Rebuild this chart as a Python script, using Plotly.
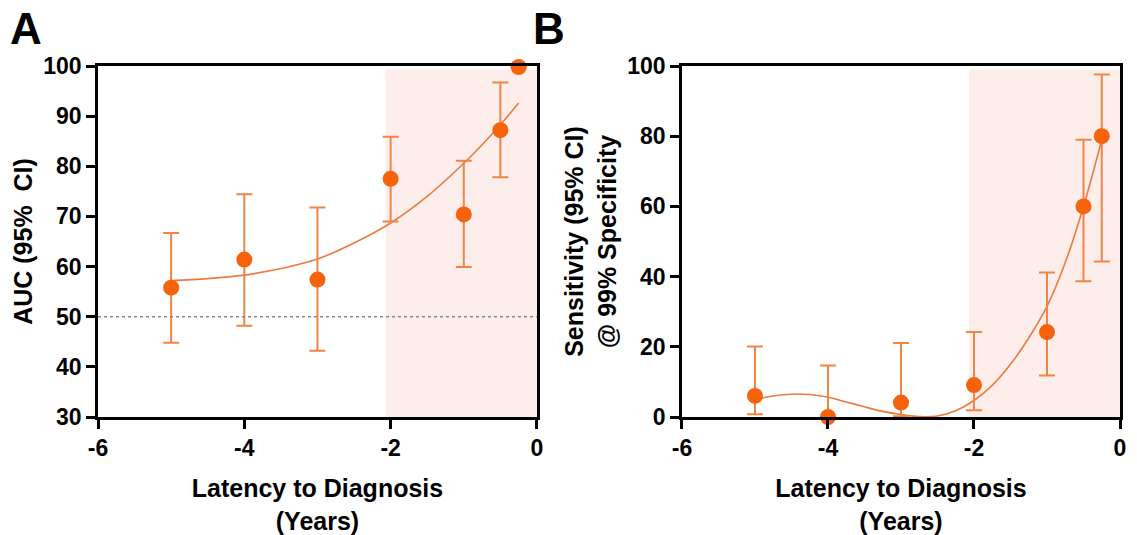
import plotly.graph_objects as go

# ---------------- data ----------------
years = [-5, -4, -3, -2, -1, -0.5, -0.25]

# Panel A: AUC (95% CI)
auc = [55.8, 61.4, 57.4, 77.5, 70.4, 87.2, 99.8]
auc_lo = [44.8, 48.2, 43.2, 69.0, 59.9, 77.8, None]
auc_hi = [66.7, 74.4, 71.8, 85.9, 81.1, 96.7, None]

# fitted curve A
fit_a_x = [-5, -4.5, -4, -3.5, -3, -2.5, -2, -1.5, -1, -0.75, -0.5, -0.25]
fit_a_y = [57.2, 57.6, 58.3, 59.6, 61.5, 64.7, 68.7, 74.0, 80.6, 84.3, 88.3, 92.6]

chance_auc = 50

# Panel B: Sensitivity (95% CI) @ 99% specificity
sens = [6.0, 0.0, 4.1, 9.1, 24.2, 60.0, 80.0]
sens_lo = [0.8, 0.0, 0.2, 1.9, 11.8, 38.7, 44.3]
sens_hi = [20.1, 14.7, 21.1, 24.2, 41.2, 79.0, 97.6]

fit_b_x = [-5, -4.75, -4.5, -4.25, -4, -3.75, -3.5, -3.25, -3, -2.75, -2.5,
           -2.25, -2, -1.75, -1.5, -1.25, -1, -0.75, -0.5, -0.25]
fit_b_y = [5.0, 6.0, 6.5, 6.4, 5.6, 4.3, 2.9, 1.6, 0.7, 0.1, 0.3,
           1.8, 4.7, 9.0, 15.0, 22.5, 31.5, 44.0, 60.0, 79.0]

shade_start = -2.07
x_ticks = [-6, -4, -2, 0]

# ---------------- styling ----------------
MARK = "#f7630c"
BAR = "#f08545"
LINE = "#ec7a3c"
SHADE = "#fdeeeb"
FONT = "Liberation Sans, Arial, sans-serif"


def err(vals, lo, hi):
    plus, minus = [], []
    for v, l, h in zip(vals, lo, hi):
        plus.append(None if h is None else h - v)
        minus.append(None if l is None else v - l)
    return plus, minus


fig = go.Figure()

# Panel A
pa, ma = err(auc, auc_lo, auc_hi)
fig.add_trace(go.Scatter(x=fit_a_x, y=fit_a_y, mode="lines", line=dict(color=LINE, width=1.6, shape="spline"),
                         xaxis="x", yaxis="y", showlegend=False, hoverinfo="skip"))
fig.add_trace(go.Scatter(x=years, y=auc, mode="markers", marker=dict(color=MARK, size=16),
                         error_y=dict(type="data", array=pa, arrayminus=ma, color=BAR, thickness=2, width=8),
                         cliponaxis=False, xaxis="x", yaxis="y", showlegend=False))

# Panel B
pb, mb = err(sens, sens_lo, sens_hi)
fig.add_trace(go.Scatter(x=fit_b_x, y=fit_b_y, mode="lines", line=dict(color=LINE, width=1.6, shape="spline"),
                         xaxis="x2", yaxis="y2", showlegend=False, hoverinfo="skip"))
fig.add_trace(go.Scatter(x=years, y=sens, mode="markers", marker=dict(color=MARK, size=16),
                         error_y=dict(type="data", array=pb, arrayminus=mb, color=BAR, thickness=2, width=8),
                         cliponaxis=False, xaxis="x2", yaxis="y2", showlegend=False))

# shaded regions and chance line
fig.add_shape(type="rect", xref="x", yref="y domain", x0=shade_start, x1=0, y0=0, y1=0.99,
              fillcolor=SHADE, line=dict(width=0), layer="below")
fig.add_shape(type="rect", xref="x2", yref="y2 domain", x0=shade_start, x1=0, y0=0, y1=0.99,
              fillcolor=SHADE, line=dict(width=0), layer="below")
fig.add_shape(type="line", xref="x", yref="y", x0=-6, x1=0, y0=chance_auc, y1=chance_auc,
              line=dict(color="#888888", width=1.5, dash="dot"), layer="above")

tickfont = dict(family=FONT, size=23, color="black", weight="bold")
titlefont = dict(family=FONT, size=25, color="black", weight="bold")

xcommon = dict(range=[-6, 0], tickvals=x_ticks, ticktext=[str(t) for t in x_ticks],
               showline=True, linecolor="black", linewidth=2.5, mirror=True,
               ticks="outside", ticklen=9, tickwidth=2.5, tickcolor="black",
               showgrid=False, zeroline=False, tickfont=tickfont, automargin=False,
               title=dict(text="Latency to Diagnosis<br>(Years)", font=titlefont, standoff=26))
ycommon = dict(showline=True, linecolor="black", linewidth=2.5, mirror=True,
               ticks="outside", ticklen=9, tickwidth=2.5, tickcolor="black",
               showgrid=False, zeroline=False, tickfont=tickfont, automargin=False)

fig.update_layout(
    width=1137, height=535,
    margin=dict(l=98, r=17, t=66, b=118),
    paper_bgcolor="white", plot_bgcolor="white",
    xaxis=dict(domain=[0, 0.4295], anchor="y", **xcommon),
    yaxis=dict(domain=[0, 1], anchor="x", range=[30, 100], tickvals=[30, 40, 50, 60, 70, 80, 90, 100],
               title=dict(text="AUC (95%  CI)", font=titlefont, standoff=4), **ycommon),
    xaxis2=dict(domain=[0.5714, 1], anchor="y2", **xcommon),
    yaxis2=dict(domain=[0, 1], anchor="x2", range=[0, 100], tickvals=[0, 20, 40, 60, 80, 100],
                title=dict(text="Sensitivity (95% CI)<br>@ 99% Specificity", font=titlefont, standoff=4),
                **ycommon),
    annotations=[
        dict(text="A", xref="paper", yref="paper", x=-0.088, y=1.108, xanchor="left", yanchor="middle",
             showarrow=False, font=dict(family=FONT, size=44, color="black", weight="bold")),
        dict(text="B", xref="paper", yref="paper", x=0.4236, y=1.108, xanchor="left", yanchor="middle",
             showarrow=False, font=dict(family=FONT, size=44, color="black", weight="bold")),
    ],
)

fig.write_html("out.html", config={"displayModeBar": False},
               post_script="document.body.style.margin='0px';")
